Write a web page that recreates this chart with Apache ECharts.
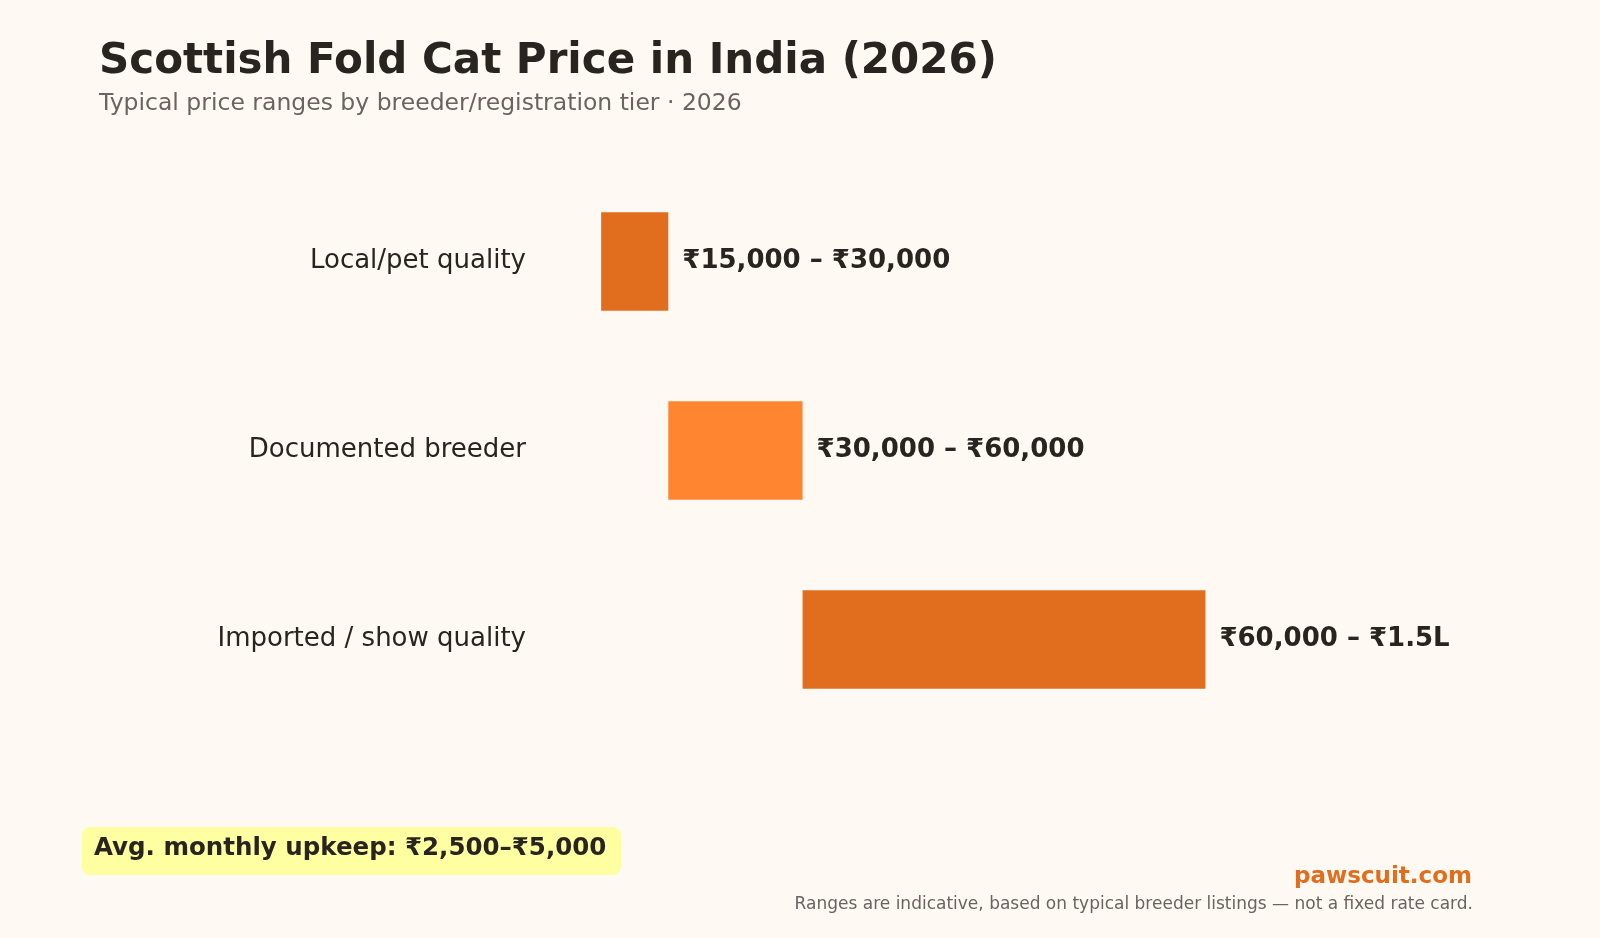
<!DOCTYPE html>
<html><head><meta charset="utf-8">
<script src="https://cdn.jsdelivr.net/npm/echarts@6/dist/echarts.min.js"></script>
<style>html,body{margin:0;background:#FFF9F4}#c{width:1600px;height:938px}</style>
</head><body><div id="c"></div>
<script>
const categories = ["Local/pet quality", "Documented breeder", "Imported / show quality"];
const lowValues = [15000, 30000, 60000];
const highValues = [30000, 60000, 150000];
const rangeLabels = ["₹15,000 – ₹30,000", "₹30,000 – ₹60,000", "₹60,000 – ₹1.5L"];
const barColors = ["#E06E1E", "#FF8531", "#E06E1E"];
const F = "DejaVu Sans";
const chart = echarts.init(document.getElementById('c'));
chart.setOption({
  backgroundColor: "#FFF9F4",
  textStyle: {fontFamily: F},
  title: [
    {text: "Scottish Fold Cat Price in India (2026)", left: 94, top: 36,
     textStyle: {fontFamily: F, fontSize: 42, fontWeight: "bold", color: "#2a2420"}},
    {text: "Typical price ranges by breeder/registration tier · 2026", left: 94, top: 87,
     textStyle: {fontFamily: F, fontSize: 23.5, fontWeight: "normal", color: "#6b6360"}}
  ],
  grid: {left: 534, right: 126, top: 167, bottom: 938 - 734},
  xAxis: {type: "value", min: 0, max: 210000, show: false},
  yAxis: {type: "category", data: categories, inverse: true,
    axisLine: {show: false}, axisTick: {show: false},
    axisLabel: {fontFamily: F, fontSize: 26, color: "#2a2420", margin: 8}},
  series: [
    {type: "bar", stack: "r", data: lowValues, itemStyle: {color: "transparent"}, barWidth: "52%", silent: true},
    {type: "bar", stack: "r", barWidth: "52%",
     data: highValues.map((h, i) => ({value: h - lowValues[i], itemStyle: {color: barColors[i]}})),
     label: {show: true, position: "right", distance: 14, fontFamily: F, fontSize: 26, fontWeight: "bold", color: "#2a2420",
       formatter: p => rangeLabels[p.dataIndex]}}
  ],
  graphic: [
    {type: "rect", left: 82, top: 827, shape: {width: 539, height: 48, r: 8}, style: {fill: "#FDFFA0"}},
    {type: "text", left: 94, top: 836, style: {text: "Avg. monthly upkeep: ₹2,500–₹5,000", font: "bold 24.5px DejaVu Sans", fill: "#2a2420"}},
    {type: "text", right: 128, top: 866, style: {text: "pawscuit.com", font: "bold 23px DejaVu Sans", fill: "#E06E1E"}},
    {type: "text", right: 127, top: 896, style: {text: "Ranges are indicative, based on typical breeder listings — not a fixed rate card.", font: "17px DejaVu Sans", fill: "#6b6360"}}
  ]
});
</script></body></html>
